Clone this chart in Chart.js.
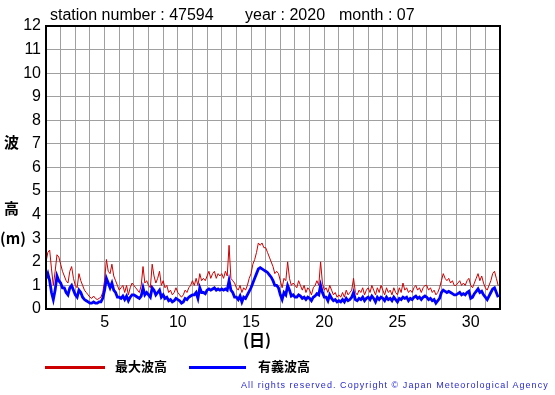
<!DOCTYPE html>
<html>
<head>
<meta charset="utf-8">
<script src="https://cdn.jsdelivr.net/npm/chart.js@4/dist/chart.umd.min.js"></script>
<style>
  html, body { margin: 0; padding: 0; background: #fff; }
  #wrap { position: relative; width: 555px; height: 395px; overflow: hidden; }
  #c { position: absolute; left: 0; top: 0; }
  .t { position: absolute; white-space: nowrap; color: #000; }
  .title { font-family: "Liberation Sans", Arial, sans-serif; font-size: 16px; top: 6px; }
  .jp { font-family: "Noto Sans CJK JP", sans-serif; font-weight: bold; }
  .copy { font-family: "Liberation Sans", Arial, sans-serif; font-size: 9px; letter-spacing: 1.05px; color: #2a2ad0; }
  .leg { position: absolute; height: 3px; }
</style>
</head>
<body>
<div id="wrap">
  <canvas id="c" width="555" height="395"></canvas>
  <div class="t title" style="left:50px;">station number : 47594</div>
  <div class="t title" style="left:245px;">year : 2020</div>
  <div class="t title" style="left:339px;">month : 07</div>
  <div class="t jp" style="left:4px; top:131px; font-size:15px;">波</div>
  <div class="t jp" style="left:4px; top:197px; font-size:15px;">高</div>
  <div class="t jp" style="left:0px; top:227px; font-size:15px;">(m)</div>
  <div class="t jp" style="left:243px; top:327px; font-size:16px;">(日)</div>
  <div class="leg" style="left:45px; top:366px; width:60px; background:#cc0000;"></div>
  <div class="t jp" style="left:115px; top:356px; font-size:13px;">最大波高</div>
  <div class="leg" style="left:189px; top:366px; width:57px; background:#0000ff;"></div>
  <div class="t jp" style="left:258px; top:356px; font-size:13px;">有義波高</div>
  <div class="t copy" style="left:241px; top:380px;">All rights reserved. Copyright © Japan Meteorological Agency</div>
</div>
<script>
// Month: July 2020, station 47594. 3-hourly readings (hours 0,3,...,21) per day.
const days = Array.from({length: 31}, (_, i) => i + 1);
const hours = [0, 3, 6, 9, 12, 15, 18, 21];
const yTicks = [0,1,2,3,4,5,6,7,8,9,10,11,12];
const xTickLabels = [5, 10, 15, 20, 25, 30];

// 最大波高 (maximum wave height, m)
const maxWave = [
  2.0, 2.4, 2.5, 1.7, 1.0, 1.6, 2.3, 2.2,
  1.9, 1.6, 1.4, 1.2, 1.1, 1.6, 1.8, 1.3,
  1.0, 0.9, 1.5, 1.2, 1.0, 0.8, 0.7, 0.6,
  0.5, 0.45, 0.55, 0.45, 0.4, 0.45, 0.5, 0.7,
  1.2, 2.1, 1.6, 1.5, 1.9, 1.4, 1.2, 1.0,
  0.8, 0.9, 1.0, 0.7, 1.0, 0.6, 0.9, 1.1,
  1.0, 0.9, 0.8, 0.7, 1.0, 1.8, 1.1, 1.2,
  1.0, 0.9, 1.9, 1.4, 1.1, 1.3, 1.6, 1.0,
  1.2, 0.9, 1.0, 0.7, 0.8, 0.6, 0.7, 0.9,
  0.7, 0.6, 0.5, 0.6, 0.8, 0.7, 0.9, 1.0,
  1.2, 1.0, 1.3, 1.0, 1.5, 1.2, 1.3, 1.2,
  1.4, 1.6, 1.3, 1.5, 1.6, 1.3, 1.5, 1.4,
  1.5, 1.3, 1.6, 1.4, 2.7, 1.3, 1.2, 1.1,
  0.9, 0.8, 1.0, 0.7, 0.9, 0.8, 1.0, 1.3,
  1.5, 1.9, 2.1, 2.4, 2.8, 2.7, 2.8, 2.6,
  2.6, 2.4, 2.2, 2.0, 1.8, 1.5, 1.6, 1.5,
  1.2, 0.9, 1.3, 1.2, 2.0, 1.3, 1.0, 1.1,
  1.0, 0.9, 1.2, 1.0, 0.8, 1.0, 0.7, 0.9,
  0.8, 0.6, 0.9, 1.0, 1.2, 1.0, 2.0, 1.1,
  0.8, 0.9, 0.7, 1.0, 0.8, 0.6, 0.7, 0.5,
  0.6, 0.5, 0.7, 0.5, 0.8, 0.6, 0.7, 0.8,
  1.3, 0.7, 0.6, 0.8, 0.7, 0.9, 0.6, 0.8,
  0.9, 0.7, 1.0, 0.8, 0.6, 0.9, 0.7, 1.0,
  0.8, 0.6, 0.9, 0.7, 0.8, 0.6, 0.9, 0.7,
  0.6, 0.9, 0.7, 1.1, 0.8, 0.9, 0.7, 0.8,
  0.7, 0.9, 1.0, 0.8, 0.9, 0.7, 0.9, 1.0,
  1.0, 0.8, 0.9, 0.7, 0.8, 0.6, 0.7, 0.9,
  1.2, 1.5, 1.3, 1.2, 1.3, 1.1, 1.2, 1.0,
  1.0, 1.1, 1.2, 1.0, 1.1, 1.0, 1.2, 1.3,
  1.0, 0.9, 1.1, 1.3, 1.5, 1.2, 1.4, 1.1,
  0.9, 0.8, 1.0, 1.2, 1.5, 1.6, 1.3, 1.0
];

// 有義波高 (significant wave height, m)
const sigWave = [
  1.3, 1.5, 1.2, 0.7, 0.4, 0.8, 1.4, 1.2,
  1.1, 0.9, 0.9, 0.7, 0.6, 0.9, 1.0, 0.8,
  0.6, 0.5, 0.8, 0.7, 0.5, 0.4, 0.35, 0.3,
  0.25, 0.25, 0.3, 0.25, 0.25, 0.3, 0.3, 0.45,
  0.8, 1.3, 1.1, 0.9, 1.1, 0.8, 0.7, 0.5,
  0.5, 0.45, 0.55, 0.4, 0.55, 0.35, 0.5, 0.6,
  0.6, 0.55, 0.5, 0.45, 0.55, 0.9, 0.6, 0.7,
  0.6, 0.5, 0.9, 0.8, 0.6, 0.7, 0.8, 0.5,
  0.6, 0.45, 0.5, 0.35, 0.4, 0.3, 0.35, 0.45,
  0.4, 0.35, 0.25, 0.3, 0.45, 0.4, 0.5, 0.55,
  0.6, 0.6, 0.7, 0.45, 0.9, 0.7, 0.7, 0.65,
  0.8, 0.85, 0.8, 0.85, 0.9, 0.8, 0.85, 0.8,
  0.85, 0.8, 0.85, 0.8, 1.2, 0.8, 0.7, 0.5,
  0.5, 0.4, 0.55, 0.3, 0.5, 0.45, 0.6, 0.75,
  0.9, 1.1, 1.3, 1.5, 1.7, 1.75, 1.7, 1.65,
  1.6, 1.55, 1.45, 1.35, 1.2, 1.0, 1.0, 0.9,
  0.6, 0.4, 0.7, 0.6, 1.0, 0.8, 0.55, 0.6,
  0.5, 0.5, 0.6, 0.55, 0.45, 0.5, 0.4, 0.5,
  0.45, 0.35, 0.5, 0.55, 0.65, 0.6, 1.0, 0.7,
  0.5, 0.5, 0.35, 0.6, 0.45, 0.35, 0.4, 0.3,
  0.35, 0.3, 0.4, 0.3, 0.45, 0.35, 0.4, 0.5,
  0.7, 0.4, 0.35, 0.45, 0.4, 0.5, 0.35, 0.45,
  0.5, 0.4, 0.55, 0.45, 0.3, 0.5, 0.4, 0.5,
  0.45, 0.35, 0.5, 0.4, 0.45, 0.35, 0.5, 0.4,
  0.3, 0.45, 0.4, 0.5, 0.45, 0.5, 0.35, 0.45,
  0.4, 0.5, 0.55, 0.45, 0.5, 0.4, 0.5, 0.55,
  0.5, 0.4, 0.45, 0.35, 0.4, 0.25, 0.35, 0.45,
  0.7, 0.8, 0.75, 0.7, 0.75, 0.7, 0.65, 0.6,
  0.6, 0.65, 0.7, 0.6, 0.65, 0.6, 0.7, 0.75,
  0.45, 0.5, 0.65, 0.75, 0.85, 0.7, 0.75, 0.6,
  0.5, 0.4, 0.55, 0.7, 0.85, 0.9, 0.7, 0.5
];

const times = [];
days.forEach(d => hours.forEach(h => times.push(d + h / 24)));
const toPts = arr => arr.map((v, i) => ({x: times[i], y: v}));

const frame = {
  id: 'frame',
  afterDraw(chart) {
    const a = chart.chartArea, ctx = chart.ctx;
    ctx.save();
    ctx.strokeStyle = '#000';
    ctx.lineWidth = 2;
    ctx.strokeRect(a.left, a.top, a.right - a.left, a.bottom - a.top);
    ctx.restore();
  }
};

new Chart(document.getElementById('c'), {
  type: 'line',
  data: {
    datasets: [
      { label: '有義波高', data: toPts(sigWave), borderColor: '#0000ff', borderWidth: 2.8, pointRadius: 0, tension: 0, order: 1 },
      { label: '最大波高', data: toPts(maxWave), borderColor: '#cc0000', borderWidth: 1, pointRadius: 0, tension: 0, order: 2 }
    ]
  },
  options: {
    responsive: false,
    animation: false,
    events: [],
    layout: { padding: { left: 0, top: 26, right: 55, bottom: 56 } },
    plugins: { legend: { display: false }, title: { display: false }, tooltip: { enabled: false } },
    scales: {
      x: {
        type: 'linear', min: 1, max: 32,
        afterFit: s => { s.height = 30; },
        grid: { color: '#a0a0a0', lineWidth: 1, drawTicks: false },
        border: { color: '#000', width: 2 },
        ticks: {
          stepSize: 1, autoSkip: false, maxRotation: 0, padding: 4,
          color: '#000', font: { family: 'Liberation Sans', size: 16 },
          callback: v => xTickLabels.includes(v) ? String(v) : ''
        }
      },
      y: {
        min: 0, max: 12,
        afterFit: s => { s.width = 46; },
        afterBuildTicks: s => { s.ticks = yTicks.map(v => ({value: v})); },
        grid: { color: '#a0a0a0', lineWidth: 1, drawTicks: false },
        border: { color: '#000', width: 2 },
        ticks: { padding: 5, color: '#000', font: { family: 'Liberation Sans', size: 16 } }
      }
    }
  },
  plugins: [frame]
});
</script>
</body>
</html>
